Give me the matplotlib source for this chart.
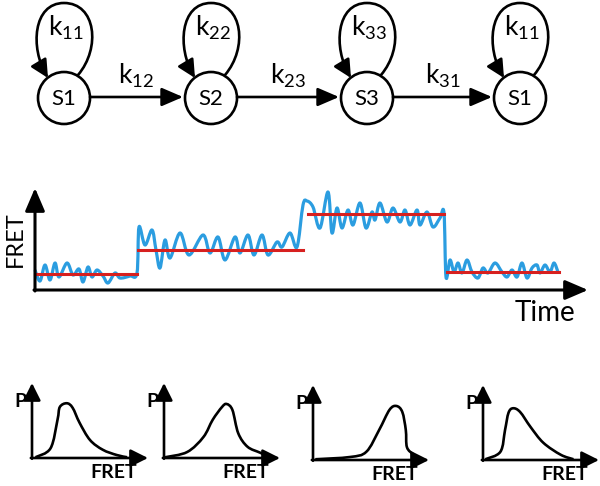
import matplotlib
matplotlib.use("Agg")
import matplotlib.pyplot as plt
from matplotlib.patches import Circle, FancyArrowPatch, PathPatch
from matplotlib.path import Path

plt.rcParams['font.family'] = ['Lato', 'DejaVu Sans']

# kinetic scheme
states = ['S1', 'S2', 'S3', 'S1']
self_rates = ['11', '22', '33', '11']
trans_rates = ['12', '23', '31']

# FRET trace (time in frames, FRET efficiency)
trace_t = [0, 5, 10, 15, 20, 24, 32, 38, 44, 48, 53, 57, 62, 68, 73, 80, 85, 95, 102,
           104, 110, 117, 121, 125, 130, 135, 145, 154, 168, 175, 183, 190, 200, 205,
           213, 219, 227, 233, 242, 247, 255, 262,
           268, 272, 278, 285, 293, 297, 302, 307, 313, 318, 325, 331, 337, 340, 345,
           352, 358, 365, 370, 375, 382, 385, 392, 398, 405, 409,
           411, 415, 419, 423, 427, 432, 437, 443, 448, 453, 460, 467, 472, 477, 482,
           487, 492, 497, 502, 505, 510, 515, 519, 523]
trace_fret = [0.20, 0.09, 0.25, 0.10, 0.27, 0.13, 0.27, 0.15, 0.21, 0.08, 0.23, 0.13, 0.20,
              0.14, 0.07, 0.17, 0.12, 0.14, 0.17,
              0.63, 0.45, 0.60, 0.40, 0.22, 0.50, 0.32, 0.57, 0.35, 0.55, 0.37, 0.53, 0.30,
              0.53, 0.37, 0.55, 0.35, 0.55, 0.35, 0.48, 0.43, 0.57, 0.43,
              0.85, 0.89, 0.83, 0.62, 0.98, 0.57, 0.82, 0.62, 0.80, 0.65, 0.87, 0.62, 0.78,
              0.70, 0.87, 0.68, 0.82, 0.68, 0.80, 0.65, 0.80, 0.65, 0.78, 0.63, 0.72, 0.77,
              0.13, 0.30, 0.18, 0.27, 0.17, 0.30, 0.18, 0.12, 0.22, 0.17, 0.27, 0.18, 0.13,
              0.20, 0.13, 0.27, 0.12, 0.22, 0.25, 0.17, 0.25, 0.18, 0.27, 0.18]

# idealized states: start, end, level
level_start = [0, 103, 273, 412]
level_end = [102, 268, 409, 524]
level_fret = [0.16, 0.40, 0.76, 0.18]

# FRET histograms for each dwell
hist_fret = [
    [0.03, 0.16, 0.22, 0.24, 0.30, 0.35, 0.41, 0.50, 0.61, 0.73, 0.82],
    [0.01, 0.20, 0.34, 0.42, 0.50, 0.54, 0.59, 0.64, 0.72, 0.83, 0.91],
    [0.02, 0.32, 0.46, 0.57, 0.66, 0.72, 0.77, 0.80, 0.81, 0.87, 0.93],
    [0.02, 0.15, 0.19, 0.22, 0.26, 0.32, 0.41, 0.52, 0.67, 0.78],
]
hist_p = [
    [0.01, 0.13, 0.51, 0.68, 0.73, 0.67, 0.47, 0.24, 0.11, 0.04, 0.01],
    [0.01, 0.08, 0.28, 0.51, 0.68, 0.72, 0.64, 0.33, 0.15, 0.07, 0.01],
    [0.01, 0.04, 0.11, 0.40, 0.67, 0.72, 0.64, 0.40, 0.17, 0.07, 0.01],
    [0.01, 0.11, 0.40, 0.63, 0.69, 0.64, 0.44, 0.23, 0.07, 0.01],
]


def smooth_path(xs, ys):
    # curve through every point (Catmull-Rom drawn as cubic Bezier segments)
    pts = list(zip(xs, ys))
    verts = [pts[0]]
    codes = [Path.MOVETO]
    n = len(pts)
    for i in range(n - 1):
        p0 = pts[i - 1] if i > 0 else pts[i]
        p1 = pts[i]
        p2 = pts[i + 1]
        p3 = pts[i + 2] if i + 2 < n else pts[i + 1]
        c1 = (p1[0] + (p2[0] - p0[0]) / 6, p1[1] + (p2[1] - p0[1]) / 6)
        c2 = (p2[0] - (p3[0] - p1[0]) / 6, p2[1] - (p3[1] - p1[1]) / 6)
        verts += [c1, c2, p2]
        codes += [Path.CURVE4] * 3
    return Path(verts, codes)


W, H = 600, 486
fig = plt.figure(figsize=(6, 4.86), dpi=100)

# ---- scheme, drawn in pixel coordinates
bg = fig.add_axes([0, 0, 1, 1])
bg.set_xlim(0, W)
bg.set_ylim(H, 0)
bg.axis('off')

cx = [64, 211, 367, 520]
cy = 98
r = 26
for i, name in enumerate(states):
    bg.add_patch(Circle((cx[i], cy), r, fill=False, lw=1.9, color='black'))
    bg.text(cx[i], cy + 1, name, ha='center', va='center', fontsize=16)
    x = cx[i]
    verts = [(x + 14, cy - 23), (x + 37, cy - 50), (x + 32, 3), (x, 3),
             (x - 31, 3), (x - 34, cy - 50), (x - 16, cy - 20)]
    codes = [Path.MOVETO, Path.CURVE4, Path.CURVE4, Path.CURVE4,
             Path.CURVE4, Path.CURVE4, Path.CURVE4]
    bg.add_patch(FancyArrowPatch(path=Path(verts, codes), arrowstyle='-|>,head_length=0.6,head_width=0.3',
                                 mutation_scale=18, lw=1.9, color='black',
                                 shrinkA=0, shrinkB=0))
    bg.text(x + 2, 28, r'$\mathregular{k_{%s}}$' % self_rates[i], ha='center', va='center',
            fontsize=19)

for i, lab in enumerate(trans_rates):
    x0 = cx[i] + r
    x1 = cx[i + 1] - r - 2
    bg.add_patch(FancyArrowPatch((x0, cy - 1), (x1, cy - 1),
                                 arrowstyle='-|>,head_length=0.65,head_width=0.28',
                                 mutation_scale=20, lw=1.9, color='black',
                                 shrinkA=0, shrinkB=0))
    bg.text((x0 + x1) / 2, 76, r'$\mathregular{k_{%s}}$' % lab, ha='center', va='center',
            fontsize=19)

# ---- FRET trace
tmax, fmax = 553, 1.02
ax = fig.add_axes([35 / W, (H - 290) / H, 553 / W, 102 / H])
ax.set_xlim(0, tmax)
ax.set_ylim(0, fmax)
ax.axis('off')
ax.add_patch(PathPatch(smooth_path(trace_t, trace_fret), fill=False, edgecolor='#2b9de0',
                       lw=2.3, joinstyle='round', clip_on=False))
for s, e, lv in zip(level_start, level_end, level_fret):
    ax.plot([s, e], [lv, lv], color='#d7201f', lw=2.2, clip_on=False)
ax.annotate('', xy=(0, fmax), xytext=(0, -0.01),
            arrowprops=dict(arrowstyle='-|>,head_length=0.7,head_width=0.3', mutation_scale=20,
                            lw=2.2, color='black', shrinkA=0, shrinkB=0))
ax.annotate('', xy=(tmax, 0), xytext=(-1, 0),
            arrowprops=dict(arrowstyle='-|>,head_length=0.7,head_width=0.3', mutation_scale=20,
                            lw=2.2, color='black', shrinkA=0, shrinkB=0))
ax.text(-20, 0.51, 'FRET', rotation=90, ha='center', va='center', fontsize=17)
ax.text(510, -0.23, 'Time', ha='center', va='center', fontsize=20)

# ---- histograms
origins = [(32, 458), (164, 458), (313, 460), (483, 460)]
for k, (ox, oy) in enumerate(origins):
    hx = fig.add_axes([ox / W, (H - oy) / H, 116 / W, 75 / H])
    hx.set_xlim(0, 1)
    hx.set_ylim(0, 1)
    hx.axis('off')
    hx.add_patch(PathPatch(smooth_path(hist_fret[k], hist_p[k]), fill=False, edgecolor='black',
                           lw=1.9, joinstyle='round', clip_on=False))
    hx.annotate('', xy=(0, 1), xytext=(0, -0.01),
                arrowprops=dict(arrowstyle='-|>,head_length=0.7,head_width=0.35', mutation_scale=15,
                                lw=1.9, color='black', shrinkA=0, shrinkB=0))
    hx.annotate('', xy=(1, 0), xytext=(-0.01, 0),
                arrowprops=dict(arrowstyle='-|>,head_length=0.7,head_width=0.35', mutation_scale=15,
                                lw=1.9, color='black', shrinkA=0, shrinkB=0))
    hx.text(-0.10, 0.75, 'P', ha='center', va='center', fontsize=14, fontweight='bold')
    hx.text(0.70, -0.19, 'FRET', ha='center', va='center', fontsize=14, fontweight='bold')

fig.savefig('out.png', dpi=100)
